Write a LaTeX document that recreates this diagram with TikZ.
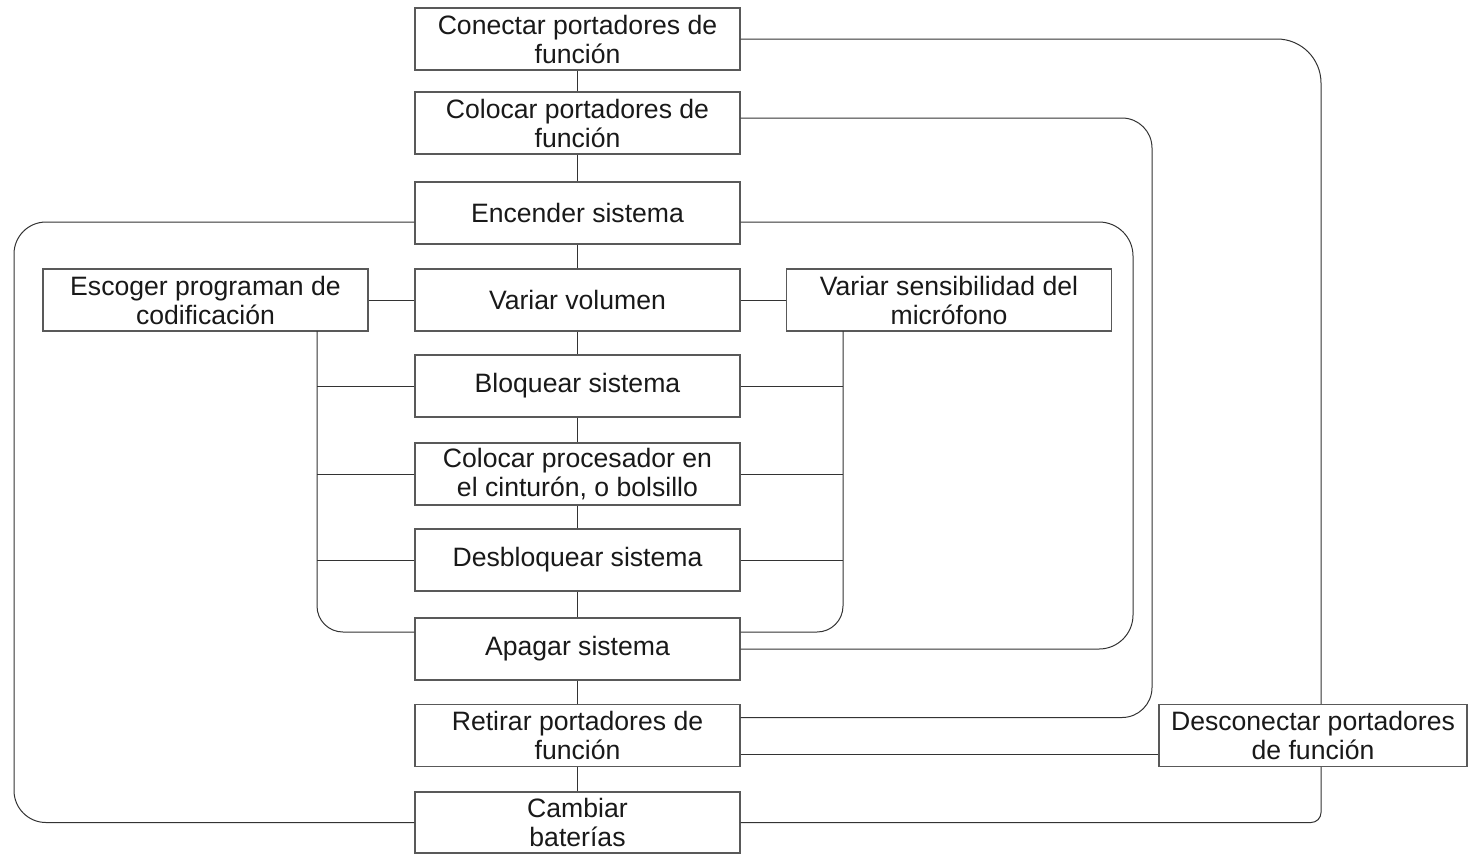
\documentclass[tikz,border=0pt]{standalone}
\usepackage{fontspec}
\setmainfont{Liberation Sans}
\begin{document}
\begin{tikzpicture}[x=0.5pt, y=-0.5pt, font=\fontsize{13.3}{14.5}\selectfont,
    paso/.style={rectangle, draw=black!65, line width=0.7pt, fill=white, text=black!90,
                 minimum width=162.5pt, minimum height=31pt, inner sep=1pt, text centered, align=center},
    tok/.style={line width=0.5pt, draw=black!80},
    lazo/.style={tok, rounded corners=15pt},
    rama/.style={tok, rounded corners=13pt}]

    \useasboundingbox (0,0) rectangle (1472,853);

    \node (con)  [paso] at (577.5,39)    {Conectar portadores de\\ función};
    \node (cp)   [paso] at (577.5,123)   {Colocar portadores de\\ función};
    \node (enc)  [paso] at (577.5,213)   {Encender sistema};
    \node (vol)  [paso] at (577.5,300)   {Variar volumen};
    \node (esc)  [paso] at (205.5,300)   {Escoger programan de\\ codificación};
    \node (sen)  [paso] at (949,300)     {Variar sensibilidad del\\ micrófono};
    \node (blo)  [paso] at (577.5,386)   {Bloquear sistema};
    \node (pro)  [paso] at (577.5,474)   {Colocar procesador en\\ el cinturón, o bolsillo};
    \node (desb) [paso] at (577.5,560)   {Desbloquear sistema};
    \node (apa)  [paso] at (577.5,649)   {Apagar sistema};
    \node (ret)  [paso] at (577.5,735.5) {Retirar portadores de\\ función};
    \node (cam)  [paso, minimum height=30.5pt] at (577.5,822.5) {Cambiar\\ baterías};

    % cadena principal
    \foreach \a/\b in {con/cp, cp/enc, enc/vol, vol/blo, blo/pro, pro/desb, desb/apa, apa/ret, ret/cam}
        \draw [tok] (\a) -- (\b);

    % ajustes laterales
    \draw [tok] (esc) -- (vol);
    \draw [tok] (vol) -- (sen);
    \coordinate (ri) at (317,331);
    \coordinate (rd) at (843,331);
    \draw [rama] (ri) |- ([yshift=8.5pt]apa.west);
    \draw [rama] (rd) |- ([yshift=8.5pt]apa.east);
    \foreach \n in {blo, pro, desb} {
        \draw [tok] (\n.west) -- (\n.west -| ri);
        \draw [tok] (\n.east) -- (\n.east -| rd);
    }

    % lazos exteriores
    \draw [lazo, rounded corners=16pt] ([yshift=-4.5pt]enc.west) -| (14,500) |- (cam.west);
    \draw [lazo, rounded corners=17pt] ([yshift=-4.5pt]enc.east) -| (1133,450) |- (apa.east);
    \draw [lazo] ([yshift=2.5pt]cp.east) -| (1152,450) |- ([yshift=9pt]ret.east);
    \draw [lazo, rounded corners=22pt] (con.east) -| (1321,400) [rounded corners=5pt] |- (cam.east);

    \node (dcon) [paso, minimum width=154pt] at (1313,735.5) {Desconectar portadores\\ de función};
    \draw [tok] ([yshift=-9.5pt]ret.east) -- ([yshift=-9.5pt]ret.east -| dcon.west);
\end{tikzpicture}
\end{document}
